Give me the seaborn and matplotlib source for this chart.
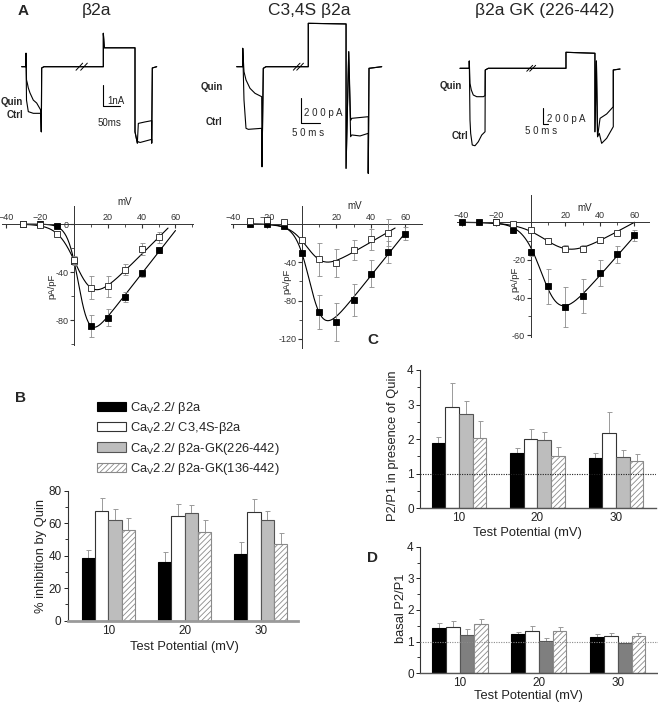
import numpy as np
import pandas as pd
import matplotlib
matplotlib.use('Agg')
import matplotlib.pyplot as plt
import seaborn as sns
from matplotlib.patches import Patch
from matplotlib.ticker import MultipleLocator

sns.set_style('ticks')
plt.rcParams['font.family'] = ['Liberation Sans', 'DejaVu Sans']
plt.rcParams['mathtext.fontset'] = 'custom'
plt.rcParams['mathtext.rm'] = 'Liberation Sans'
plt.rcParams['hatch.linewidth'] = 0.6
plt.rcParams['axes.linewidth'] = 0.8

# ---------------- data ----------------
# A: current traces (time in ms, current in nA for b2a, pA for the others)
a1_quin_t = [-13, 0, 0, 1.5, 3.9, 6.9, 12, 21.9, 32, 44, 46, 47, 54, 232, 232, 235, 327, 327, 334, 337, 357, 377, 377, 379, 392]
a1_quin_i = [0, 0, 0.64, -0.63, -0.78, -1.01, -1.25, -1.59, -1.73, -2.06, -3.1, -0.06, 0, 0, 1.59, 0.9, 0.9, -3.1, -3.64, -2.7, -2.63, -2.57, -3.64, -0.06, 0]
a1_ctrl_t = [-13, 0, 0, 1.5, 6.9, 21.9, 44, 46, 47, 54, 232, 232, 235, 327, 327, 334, 337, 342, 377, 377, 379, 392]
a1_ctrl_i = [0, 0, 0.64, -1.59, -2.14, -2.22, -2.22, -3.1, -0.06, 0, 0, 1.59, 0.9, 0.9, -3.1, -3.64, -3.57, -3.61, -3.46, -3.64, -0.06, 0]

a2_quin_t = [-15.8, 0, 0, 3.4, 8.7, 19.2, 32.4, 50, 50.8, 54.2, 61.3, 172.6, 172.6, 272, 272, 279, 284, 287, 330.5, 330.5, 332.4, 365.8]
a2_quin_i = [0, 0, 147, -40, -106, -173, -213, -240, -800, -13, 0, 0, 347, 342, -813, 120, -430, -413, -400, -853, -13, 0]
a2_ctrl_t = [-15.8, 0, 0, 3.4, 8.7, 14.7, 50, 50.8, 54.2, 61.3, 172.6, 172.6, 272, 272, 279, 284, 287, 308.7, 330.5, 330.5, 332.4, 365.8]
a2_ctrl_i = [0, 0, 147, -266, -493, -501, -493, -800, -13, 0, 0, 347, 342, -813, 120, -560, -546, -554, -533, -853, -13, 0]

a3_quin_t = [-81.6, 0, 0, 6, 17.5, 35, 65, 123, 138, 140, 167, 848, 848, 1102, 1102, 1115, 1125, 1147, 1205, 1263, 1263, 1322]
a3_quin_i = [0, 0, 91, -188, -271, -334, -355, -355, -342, -21, 0, 0, 200, 188, -793, 91, -855, -625, -571, -480, -21, -9]
a3_ctrl_t = [-81.6, 0, 0, 6, 12, 26, 50, 79, 109, 138, 140, 167, 848, 848, 1102, 1102, 1115, 1125, 1140, 1161, 1205, 1263, 1263, 1322]
a3_ctrl_i = [0, 0, 91, -646, -813, -959, -968, -918, -834, -793, -21, 0, 0, 200, 188, -793, 91, -855, -813, -938, -875, -730, -21, -9]

# A: I-V relations (mV, pA/pF)
iv1_v = [-30, -20, -10, 0, 10, 20, 30, 40, 50]
iv1_wt = [0, 0, -2, -31, -85, -78, -61, -41, -22]
iv1_wt_err = [0.5, 0.5, 1, 3, 9.5, 7, 4, 3, 2]
iv1_mut = [0, -1, -8, -30, -53, -52, -38, -21, -11]
iv1_mut_err = [0.5, 1, 2, 3, 9.6, 8.7, 4.4, 4.8, 4.6]

iv2_v = [-30, -20, -10, 0, 10, 20, 30, 40, 50, 60]
iv2_wt = [0, 0, -2, -30, -92, -102, -79, -52, -29, -10]
iv2_wt_err = [0.5, 0.5, 1, 2, 17.7, 19.6, 16.5, 14, 11.6, 7]
iv2_mut_v = [-30, -20, -10, 0, 10, 20, 30, 40, 50]
iv2_mut = [3, 4, 2, -17, -37, -41, -27, -16, -9]
iv2_mut_err = [1, 1, 1, 2, 16.8, 14.4, 10.2, 11.3, 14]

iv3_v = [-40, -30, -20, -10, 0, 10, 20, 30, 40, 50, 60]
iv3_wt = [0, 0, 0, -4, -16, -34, -45, -39, -27, -17, -7]
iv3_wt_err = [0.3, 0.3, 0.3, 1.5, 2, 9.3, 10.8, 9.1, 7.1, 4.4, 2.7]
iv3_mut_v = [-20, -10, 0, 10, 20, 30, 40, 50]
iv3_mut = [0, -1, -4, -10, -14, -14, -9.5, -5.5]
iv3_mut_err = [0.5, 0.5, 1, 1.5, 2, 2, 1.5, 1]

# Boltzmann fit parameters: G, Vrev, V50, k, Vstart, Vend
fit1_wt = [1.8, 63, 3.2, 3.26, -30, 60]
fit1_mut = [1.4, 58, 2.85, 5.4, -30, 55.6]
fit2_wt = [2.25, 64, 5.39, 4.04, -30, 60]
fit2_mut = [1.05, 58, 4.8, 5.1, -30, 54]
fit3_wt = [1.05, 67, 8, 5.5, -40, 60]
fit3_mut = [0.5, 60, 13.2, 8, -40, 60]

# B-D: bar charts
potentials = ['10', '20', '30']
constructs = [r'Ca$_{\mathregular{V}}$2.2/ β2a',
              r'Ca$_{\mathregular{V}}$2.2/ C3,4S-β2a',
              r'Ca$_{\mathregular{V}}$2.2/ β2a-GK(226-442)',
              r'Ca$_{\mathregular{V}}$2.2/ β2a-GK(136-442)']

inhib_mean = [[38.5, 36.4, 41.0], [67.6, 64.3, 67.0], [61.9, 66.1, 61.9], [55.7, 54.5, 47.1]]
inhib_err = [[4.9, 6.0, 7.5], [7.8, 7.4, 7.7], [6.7, 5.2, 5.7], [7.4, 7.4, 6.8]]

quin_mean = [[1.88, 1.59, 1.46], [2.92, 1.99, 2.17], [2.73, 1.97, 1.49], [2.04, 1.51, 1.36]]
quin_err = [[0.19, 0.14, 0.13], [0.69, 0.30, 0.61], [0.37, 0.24, 0.20], [0.48, 0.25, 0.20]]

basal_mean = [[1.44, 1.23, 1.16], [1.45, 1.34, 1.18], [1.21, 1.02, 0.97], [1.56, 1.34, 1.19]]
basal_err = [[0.14, 0.07, 0.08], [0.21, 0.15, 0.10], [0.19, 0.11, 0.0], [0.16, 0.13, 0.07]]

# ---------------- figure ----------------
W, H = 658, 706
fig = plt.figure(figsize=(W / 100, H / 100), dpi=100)


def px_rect(x0, y0, x1, y1):
    return [x0 / W, 1 - y1 / H, (x1 - x0) / W, (y1 - y0) / H]


def draw_traces(box, origin, scale, quin, ctrl, breaks, bar, bar_txt, lbls):
    x0, y0, x1, y1 = box
    ox, oy = origin
    sx, sy = scale
    ax = fig.add_axes(px_rect(*box))
    ax.set_xlim((x0 - ox) / sx, (x1 - ox) / sx)
    ax.set_ylim((oy - y1) / sy, (oy - y0) / sy)
    ax.axis('off')
    ax.plot(*ctrl, color='k', lw=0.8)
    ax.plot(*quin, color='k', lw=0.8)
    centers, dt, di = breaks
    for c in centers:
        ax.plot([c - dt, c + dt], [-di, di], color='k', lw=0.7)
    bt, bi, lt, li = bar
    ax.plot([bt, bt, bt + lt], [bi + li, bi, bi], color='k', lw=0.8)
    for (tx, ty, s) in bar_txt:
        ax.text(tx, ty, s, ha='center', va='center', fontsize=7)
    for (tx, ty, s) in lbls:
        ax.text(tx, ty, s, ha='right', va='center', fontsize=7, fontweight='bold')


draw_traces((0, 25, 165, 165), (26, 66.7), (1 / 3, 21),
            (a1_quin_t, a1_quin_i), (a1_ctrl_t, a1_ctrl_i),
            ([160, 174], 10, 0.17), (232, -1.87, 50, 1.0),
            [(270, -1.63, '1nA'), (249, -2.68, '50ms')],
            [(-9, -1.67, 'Quin'), (-9, -2.3, 'Ctrl')])
draw_traces((212, 15, 440, 180), (242.7, 66.7), (0.38, 0.125),
            (a2_quin_t, a2_quin_i), (a2_ctrl_t, a2_ctrl_i),
            ([142, 151], 8.8, 28), (153.4, -453, 50, 200),
            [(212.6, -373, '2 0 0 p A'), (171.4, -528, '5 0 m s')],
            [(-51.8, -160, 'Quin'), (-54.5, -442, 'Ctrl')])
draw_traces((440, 40, 640, 160), (469.3, 68.3), (0.114, 0.08),
            (a3_quin_t, a3_quin_i), (a3_ctrl_t, a3_ctrl_i),
            ([530, 556], 26, 37), (644, -700, 50, 200),
            [(853, -634, '2 0 0 p A'), (633, -780, '5 0 m s')],
            [(-64, -221, 'Quin'), (-11, -846, 'Ctrl')])

fig.text(23 / W, 1 - 11 / H, 'A', fontsize=11, fontweight='bold', ha='center', va='center')
fig.text(96.7 / W, 1 - 11 / H, 'β2a', fontsize=12.5, ha='center', va='center')
fig.text(309 / W, 1 - 11 / H, 'C3,4S β2a', fontsize=12.5, ha='center', va='center')
fig.text(545 / W, 1 - 11 / H, 'β2a GK (226-442)', fontsize=12.5, ha='center', va='center')


def fit_curve(p):
    g, vrev, v50, k, v0, v1 = p
    v = np.linspace(v0, v1, 200)
    return v, g * (v - vrev) / (1 + np.exp(-(v - v50) / k))


def draw_iv(box, xlim, ylim, yticks, yminor, show_zero, wt, mut, fits, mv_pos, pa_pos):
    ax = fig.add_axes(px_rect(*box))
    ax.set_facecolor('none')
    for p in fits:
        ax.plot(*fit_curve(p), color='k', lw=0.8, zorder=2)
    ax.errorbar(wt[0], wt[1], yerr=wt[2], fmt='s', ms=5, mfc='k', mec='k', mew=0.6,
                ecolor='#8c8c8c', elinewidth=0.6, capsize=1.8, capthick=0.6, zorder=3)
    ax.errorbar(mut[0], mut[1], yerr=mut[2], fmt='s', ms=5, mfc='white', mec='#222', mew=0.6,
                ecolor='#8c8c8c', elinewidth=0.6, capsize=1.8, capthick=0.6, zorder=4)
    ax.set_xlim(*xlim)
    ax.set_ylim(*ylim)
    ax.spines['left'].set_position(('data', 0))
    ax.spines['top'].set_position(('data', 0))
    ax.spines['bottom'].set_visible(False)
    ax.spines['right'].set_visible(False)
    for s in ('left', 'top'):
        ax.spines[s].set_linewidth(0.7)
        ax.spines[s].set_color('#333333')
    ax.xaxis.set_ticks_position('top')
    ax.set_xticks([-40, -20, 20, 40, 60])
    ax.xaxis.set_minor_locator(MultipleLocator(10))
    ax.set_yticks(yticks)
    ax.set_yticks(yminor, minor=True)
    ax.tick_params(axis='x', which='both', direction='in', labelsize=6.5, pad=1.5, colors='#333333')
    ax.tick_params(axis='x', which='major', length=3)
    ax.tick_params(axis='x', which='minor', length=2)
    ax.tick_params(axis='y', which='both', direction='out', labelsize=6.5, pad=1, colors='#333333')
    ax.tick_params(axis='y', which='major', length=3)
    ax.tick_params(axis='y', which='minor', length=2)
    ax.set_yticklabels([('%d' % t) if (t != 0 or show_zero) else '' for t in yticks])
    ax.text(mv_pos[0], mv_pos[1], 'mV', transform=ax.transAxes, fontsize=7, ha='center', va='center')
    ax.text(pa_pos[0], pa_pos[1], 'pA/pF', transform=ax.transAxes, fontsize=6.8, ha='center',
            va='center', rotation=90)
    return ax


draw_iv((1.7, 205.7, 192.7, 345), (-42.8, 70.2), (-100.8, 15.3), [-80, -40, 0], [-100, -60, -20], True,
        (iv1_v, iv1_wt, iv1_wt_err), (iv1_v, iv1_mut, iv1_mut_err), [fit1_wt, fit1_mut],
        (0.646, 1.027), (0.262, 0.419))
draw_iv((230.9, 205.7, 421.7, 348), (-41, 69.4), (-129.4, 19.1), [-120, -80, -40], [-100, -60, -20], False,
        (iv2_v, iv2_wt, iv2_wt_err), (iv2_mut_v, iv2_mut, iv2_mut_err), [fit2_wt, fit2_mut],
        (0.650, 0.998), (0.292, 0.466))
draw_iv((456.7, 195, 649.3, 336.7), (-42.8, 68.6), (-60.8, 14.5), [-60, -40, -20], [-50, -30, -10], False,
        (iv3_v, iv3_wt, iv3_wt_err), (iv3_mut_v, iv3_mut, iv3_mut_err), [fit3_wt, fit3_mut],
        (0.666, 0.908), (0.303, 0.405))


def draw_bars(box, xlim, means, errs, ylim, major, minor, ylabel, gray, xcolor, xlw,
              ylab_pos, xlab_pos, dotted=None):
    ax = fig.add_axes(px_rect(*box))
    df = pd.DataFrame({'potential': np.tile(potentials, 4),
                       'construct': np.repeat(constructs, 3),
                       'value': np.concatenate(means)})
    faces = ['black', 'white', gray, 'white']
    edges = ['black', '#333333', '#555555', '#8a8a8a']
    sns.barplot(data=df, x='potential', y='value', hue='construct', hue_order=constructs,
                order=potentials, palette=faces, width=0.7, errorbar=None, legend=False,
                saturation=1, ax=ax, zorder=2)
    bar_groups = list(ax.containers)
    for i, cont in enumerate(bar_groups):
        for b, e in zip(cont, errs[i]):
            b.set_edgecolor(edges[i])
            b.set_linewidth(0.8)
            if i == 3:
                b.set_hatch('//////')
            cx = b.get_x() + b.get_width() / 2
            if e > 0:
                ax.errorbar(cx, b.get_height(), yerr=[[0], [e]], fmt='none', ecolor='#9a9a9a',
                            elinewidth=0.7, capsize=1.8, capthick=0.7, zorder=1)
    if dotted is not None:
        ax.axhline(1, color=dotted, ls=(0, (1, 1.2)), lw=0.8, zorder=3)
    ax.set_xlim(*xlim)
    ax.set_ylim(*ylim)
    ax.set_yticks(major)
    ax.yaxis.set_minor_locator(MultipleLocator(minor))
    sns.despine(ax=ax)
    ax.spines['bottom'].set_color(xcolor)
    ax.spines['bottom'].set_linewidth(xlw)
    ax.spines['left'].set_color('#333333')
    ax.spines['left'].set_linewidth(0.8)
    ax.tick_params(axis='x', length=0, labelsize=8.5, pad=3, colors='#222222')
    ax.tick_params(axis='y', which='major', length=3, width=0.7, labelsize=8.5, pad=1.5, colors='#222222')
    ax.tick_params(axis='y', which='minor', length=2, width=0.7, colors='#333333')
    ax.set_ylabel(ylabel, fontsize=9.3, color='#222222')
    ax.set_xlabel('Test Potential (mV)', fontsize=9.3, color='#222222')
    ax.yaxis.set_label_coords(*ylab_pos)
    ax.xaxis.set_label_coords(*xlab_pos)
    return ax


axB = draw_bars((67.7, 490.7, 298, 620.7), (-0.534, 2.49), inhib_mean, inhib_err, (0, 80),
                [0, 20, 40, 60, 80], 10, '% inhibition by Quin', '#bdbdbd', '#9a9a9a', 2.0,
                (-0.090, 0.5), (0.505, -0.153))
axC = draw_bars((420, 370, 656, 508.3), (-0.497, 2.51), quin_mean, quin_err, (0, 4),
                [0, 1, 2, 3, 4], 0.5, 'P2/P1 in presence of Quin', '#bdbdbd', '#555555', 1.0,
                (-0.089, 0.453), (0.455, -0.135), dotted='#222222')
axD = draw_bars((420, 546.7, 657.7, 673.3), (-0.507, 2.507), basal_mean, basal_err, (0, 4),
                [0, 1, 2, 3, 4], 0.5, 'basal P2/P1', '#7f7f7f', '#555555', 1.0,
                (-0.055, 0.513), (0.455, -0.132), dotted='#8a8a8a')

handles = [Patch(facecolor='black', edgecolor='black', lw=0.8),
           Patch(facecolor='white', edgecolor='#333333', lw=0.8),
           Patch(facecolor='#bdbdbd', edgecolor='#555555', lw=0.8),
           Patch(facecolor='white', edgecolor='#8a8a8a', lw=0.8, hatch='//////')]
fig.legend(handles, constructs, loc='upper left', bbox_to_anchor=(96.7 / W, 1 - 400 / H),
           frameon=False, fontsize=9.3, handlelength=2.3, handleheight=0.75,
           handletextpad=0.3, labelspacing=0.33, borderpad=0, borderaxespad=0)

fig.text(20 / W, 1 - 398 / H, 'B', fontsize=11, fontweight='bold', ha='center', va='center')
fig.text(373 / W, 1 - 340 / H, 'C', fontsize=11, fontweight='bold', ha='center', va='center')
fig.text(373 / W, 1 - 558 / H, 'D', fontsize=11, fontweight='bold', ha='center', va='center')

fig.savefig('out.png', dpi=100)
